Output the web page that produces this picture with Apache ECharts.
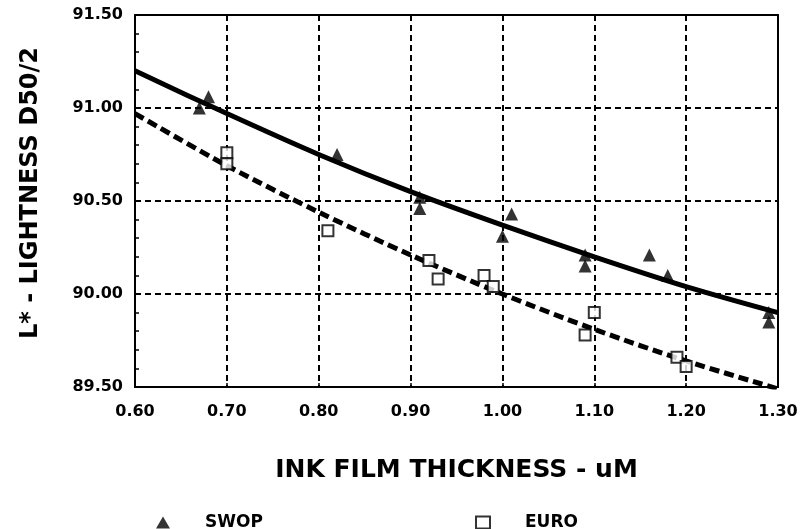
<!DOCTYPE html>
<html>
<head>
<meta charset="utf-8">
<script src="https://cdn.jsdelivr.net/npm/echarts@6/dist/echarts.min.js"></script>
<style>
html,body{margin:0;padding:0;background:#fff;}
#chart{width:802px;height:529px;}
</style>
</head>
<body>
<div id="chart"></div>
<script>
// Data
var swopX = [0.67, 0.68, 0.82, 0.91, 0.91, 1.00, 1.01, 1.09, 1.09, 1.16, 1.18, 1.29, 1.29];
var swopY = [91.00, 91.06, 90.75, 90.52, 90.46, 90.31, 90.43, 90.21, 90.15, 90.21, 90.10, 89.90, 89.85];
var euroX = [0.70, 0.70, 0.81, 0.92, 0.93, 0.98, 0.99, 1.09, 1.10, 1.19, 1.20];
var euroY = [90.76, 90.70, 90.34, 90.18, 90.08, 90.10, 90.04, 89.78, 89.90, 89.66, 89.61];
var fitX = [0.60, 0.70, 0.80, 0.90, 1.00, 1.10, 1.20, 1.30];
var swopFit = [91.20, 90.97, 90.75, 90.55, 90.37, 90.20, 90.04, 89.90];
var euroFit = [90.97, 90.69, 90.44, 90.21, 90.00, 89.81, 89.64, 89.49];
var seriesNames = ['SWOP', 'EURO'];
var xTitle = 'INK FILM THICKNESS - uM';
var yTitle = 'L* - LIGHTNESS D50/2';

function pairs(xs, ys) { return xs.map(function (x, i) { return [x, ys[i]]; }); }

var FONT = 'DejaVu Sans';
var chart = echarts.init(document.getElementById('chart'), null, {renderer: 'canvas'});
chart.setOption({
  backgroundColor: '#fff',
  animation: false,
  grid: {left: 135, right: 24, top: 15, bottom: 142, show: true, borderColor: '#000', borderWidth: 2, backgroundColor: 'transparent'},
  legend: [
    {data: [seriesNames[0]], left: 151, top: 509, itemWidth: 14, itemHeight: 12,
     textStyle: {fontFamily: FONT, fontWeight: 'bold', fontSize: 17, color: '#000', padding: [0, 0, 0, 30]}},
    {data: [seriesNames[1]], left: 470, top: 509, itemWidth: 14, itemHeight: 12,
     textStyle: {fontFamily: FONT, fontWeight: 'bold', fontSize: 17, color: '#000', padding: [0, 0, 0, 30]}}
  ],
  xAxis: {
    type: 'value', min: 0.6, max: 1.3, interval: 0.1,
    name: xTitle, nameLocation: 'middle', nameGap: 71,
    nameTextStyle: {fontFamily: FONT, fontWeight: 'bold', fontSize: 25, color: '#000'},
    axisLine: {show: true, lineStyle: {color: '#000', width: 2}},
    axisTick: {show: true, inside: true, length: 4, lineStyle: {color: '#000', width: 1.5}},
    axisLabel: {margin: 17, fontFamily: FONT, fontWeight: 'bold', fontSize: 16, color: '#000',
      formatter: function (v) { return v.toFixed(2); }},
    splitLine: {show: true, lineStyle: {color: '#000', width: 2, type: [6, 4]}}
  },
  yAxis: {
    type: 'value', min: 89.5, max: 91.5, interval: 0.5,
    name: yTitle, nameLocation: 'middle', nameGap: 92, nameRotate: 90,
    nameTextStyle: {fontFamily: FONT, fontWeight: 'bold', fontSize: 24, color: '#000', padding: [0, 0, 0, 16]},
    axisLine: {show: true, lineStyle: {color: '#000', width: 2}},
    axisTick: {show: true, inside: true, length: 4, lineStyle: {color: '#000', width: 1.5}},
    minorTick: {show: true, splitNumber: 5, length: 4, lineStyle: {color: '#000', width: 1.5}},
    axisLabel: {margin: 12, fontFamily: FONT, fontWeight: 'bold', fontSize: 16, color: '#000',
      formatter: function (v) { return v.toFixed(2); }},
    splitLine: {show: true, lineStyle: {color: '#000', width: 2, type: [6, 4]}}
  },
  series: [
    {name: seriesNames[0], type: 'scatter', data: pairs(swopX, swopY), symbol: 'triangle', symbolSize: 13,
     itemStyle: {color: '#000'}, z: 5},
    {name: seriesNames[1], type: 'scatter', data: pairs(euroX, euroY), symbol: 'rect', symbolSize: 11,
     itemStyle: {color: '#fff', borderColor: '#000', borderWidth: 2}, z: 5},
    {name: 'SWOP fit', type: 'line', data: pairs(fitX, swopFit), smooth: 0.3, showSymbol: false,
     lineStyle: {color: '#000', width: 5}, z: 3},
    {name: 'EURO fit', type: 'line', data: pairs(fitX, euroFit), smooth: 0.3, showSymbol: false,
     lineStyle: {color: '#000', width: 5, type: [10, 5]}, z: 3}
  ]
});
</script>
</body>
</html>
